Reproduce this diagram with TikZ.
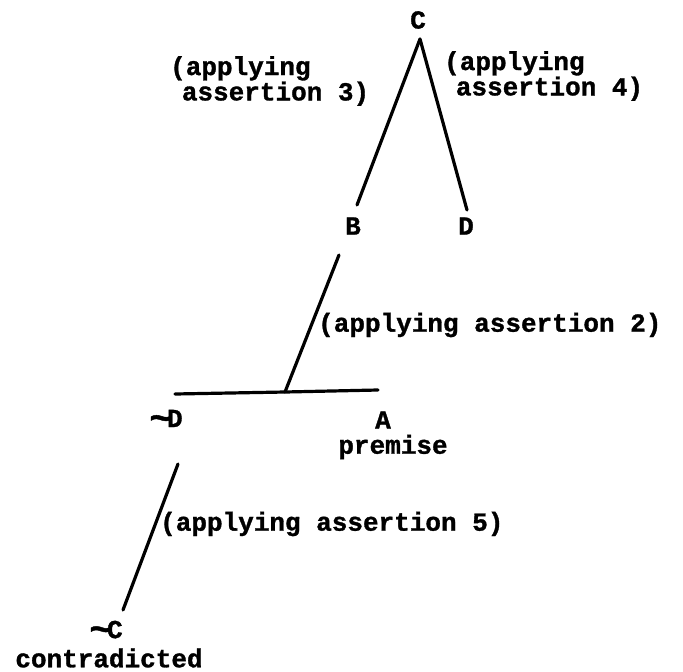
\documentclass[tikz,border=0pt]{standalone}
\usepackage{fontspec}
\usepackage{graphicx}
\setmainfont{Liberation Mono}[BoldFeatures={FakeBold=1.2}]
\newcommand{\tnot}{\raisebox{-0.12em}{\scalebox{1.5}[1.4]{\char"7E}}\kern-0.22em}
\begin{document}
\begin{tikzpicture}[x=1pt,y=-1pt,
  txt/.style={inner sep=0pt, font=\bfseries\fontsize{26}{24}\selectfont, align=left},
  edge/.style={line width=3.2pt, line cap=round}]
\useasboundingbox (0,0) rectangle (683,672);
% nodes
\node[txt] (C) at (418,20) {C};
\node[txt] (B) at (353,226) {B};
\node[txt] (D) at (466,226) {D};
\node[txt] (nD) at (166,420) {\tnot D};
\node[txt] (A) at (383,420) {A};
\node[txt] (prem) at (393,447) {premise};
\node[txt] (nC) at (106,631) {\tnot C};
\node[txt] (contr) at (109,658) {contradicted};
% labels
\node[txt, anchor=north west] (l3) at (170,56) {(applying\\\hspace*{0.45em}assertion 3)};
\node[txt, anchor=north west] (l4) at (444,51) {(applying\\\hspace*{0.45em}assertion 4)};
\node[txt, anchor=west] (l2) at (318,325) {(applying assertion 2)};
\node[txt, anchor=west] (l5) at (160,524) {(applying assertion 5)};
% coordinates
\coordinate (apex) at (420,39);
\coordinate (bEnd) at (357,205);
\coordinate (dEnd) at (467,210);
\coordinate (bTop) at (339,255);
\coordinate (junc) at (285,392);
\coordinate (hL) at (175,394);
\coordinate (hR) at (378,390);
\coordinate (ndTop) at (178,464);
\coordinate (ncEnd) at (123,610);
% connectors
\draw[edge] (apex) -- (bEnd);
\draw[edge] (apex) -- (dEnd);
\draw[edge] (bTop) -- (junc);
\draw[edge] (hL) -- (junc) -- (hR);
\draw[edge] (ndTop) -- (ncEnd);
\end{tikzpicture}
\end{document}
